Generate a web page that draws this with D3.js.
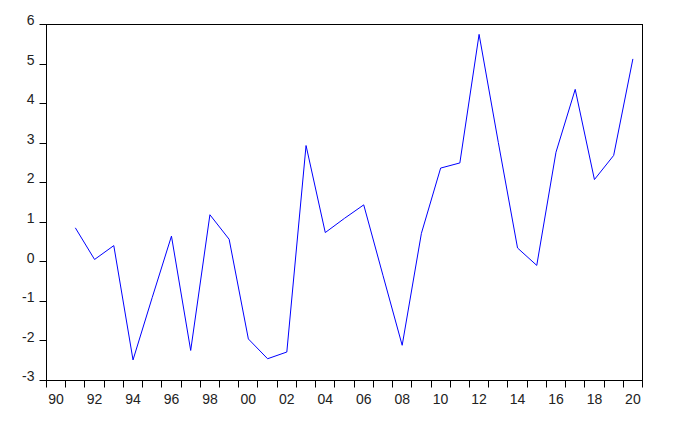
<!DOCTYPE html>
<html>
<head>
<meta charset="utf-8">
<script src="https://cdn.jsdelivr.net/npm/d3@7"></script>
<style>
  html, body { margin: 0; padding: 0; background: #fff; }
  svg { display: block; }
  text { font-family: Arial, "Liberation Sans", sans-serif; font-size: 14px; fill: #222; }
</style>
</head>
<body>
<svg id="chart" width="676" height="431"></svg>
<script>
const years = [1991,1992,1993,1994,1995,1996,1997,1998,1999,2000,
               2001,2002,2003,2004,2005,2006,2007,2008,2009,2010,
               2011,2012,2013,2014,2015,2016,2017,2018,2019,2020];
const values = [0.86,0.06,0.41,-2.48,-0.90,0.65,-2.24,1.19,0.57,-1.95,
                -2.45,-2.28,2.94,0.74,1.10,1.44,-0.34,-2.11,0.72,2.37,
                2.50,5.75,3.02,0.35,-0.09,2.77,4.36,2.08,2.69,5.13];
const yTicks = [-3,-2,-1,0,1,2,3,4,5,6];
const xLabelYears = [1990,1992,1994,1996,1998,2000,2002,2004,2006,2008,2010,2012,2014,2016,2018,2020];
const xLabels = ["90","92","94","96","98","00","02","04","06","08","10","12","14","16","18","20"];

const svg = d3.select("#chart");
const L = 46.5, R = 642.5, T = 24.5, B = 380.5;

const x = d3.scaleLinear().domain([1990, 2021]).range([L, R]);
const y = d3.scaleLinear().domain([-3, 6]).range([B, T]);

// Line
const line = d3.line().x((d, i) => x(years[i] + 0.5)).y(d => y(d));
svg.append("path")
  .datum(values)
  .attr("d", line)
  .attr("fill", "none")
  .attr("stroke", "#0000ff")
  .attr("stroke-width", 1);

// Frame
svg.append("rect")
  .attr("x", L).attr("y", T)
  .attr("width", R - L).attr("height", B - T)
  .attr("fill", "none").attr("stroke", "#000").attr("stroke-width", 1);

// Y ticks
const yg = svg.append("g");
yg.selectAll("line").data(yTicks).enter().append("line")
  .attr("x1", L - 7).attr("x2", L)
  .attr("y1", d => Math.round(y(d) - 0.5) + 0.5)
  .attr("y2", d => Math.round(y(d) - 0.5) + 0.5)
  .attr("stroke", "#000");
yg.selectAll("text").data(yTicks).enter().append("text")
  .attr("x", L - 12)
  .attr("y", d => y(d) - 3)
  .attr("text-anchor", "end")
  .attr("dominant-baseline", "middle")
  .text(d => d);

// X ticks
const xTickYears = d3.range(1990, 2022);
const xg = svg.append("g");
xg.selectAll("line").data(xTickYears).enter().append("line")
  .attr("x1", d => Math.round(x(d) - 0.5) + 0.5)
  .attr("x2", d => Math.round(x(d) - 0.5) + 0.5)
  .attr("y1", B).attr("y2", B + 7)
  .attr("stroke", "#000");
xg.selectAll("text").data(xLabelYears).enter().append("text")
  .attr("x", d => x(d + 0.5))
  .attr("y", B + 23)
  .attr("text-anchor", "middle")
  .text((d, i) => xLabels[i]);
</script>
</body>
</html>
